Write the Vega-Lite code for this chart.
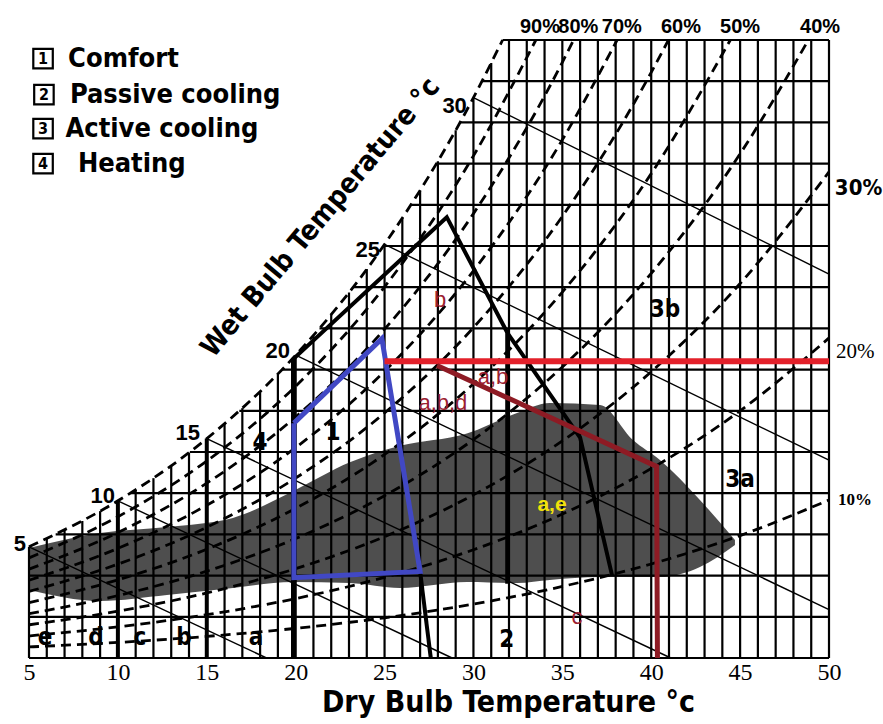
{
"$schema":"https://vega.github.io/schema/vega-lite/v6.json",
"width":800,"height":618,"autosize":"none",
"padding":{"left":29,"top":40,"right":54,"bottom":66},
"background":"white",
"config":{"view":{"stroke":null},"axis":{"grid":false}},
"datasets":{
"stipple":[
{"T":5.0,"Wt":5.34,"Wb":3.3},{"T":9.0,"Wt":6.07,"Wb":2.77},{"T":12.76,"Wt":6.36,"Wb":3.06},{"T":16.47,"Wt":6.8,"Wb":3.4},{"T":19.85,"Wt":8.1,"Wb":3.69},{"T":23.05,"Wt":9.5,"Wb":3.64},{"T":25.87,"Wt":10.3,"Wb":3.4},{"T":29.63,"Wt":10.9,"Wb":3.69},{"T":32.45,"Wt":11.89,"Wb":3.64},{"T":34.3,"Wt":12.38,"Wb":3.79},{"T":37.12,"Wt":12.28,"Wb":3.93},{"T":38.97,"Wt":10.58,"Wb":3.93},{"T":40.49,"Wt":9.61,"Wb":3.93},{"T":42.74,"Wt":7.67,"Wb":4.42},{"T":44.71,"Wt":5.73,"Wb":5.49}],
"vgrid":[
{"T":5,"W0":0,"W1":5.40},{"T":6,"W0":0,"W1":5.79},{"T":7,"W0":0,"W1":6.21},{"T":8,"W0":0,"W1":6.65},{"T":9,"W0":0,"W1":7.13},{"T":10,"W0":0,"W1":7.63},{"T":11,"W0":0,"W1":8.16},{"T":12,"W0":0,"W1":8.73},{"T":13,"W0":0,"W1":9.33},{"T":14,"W0":0,"W1":9.97},{"T":15,"W0":0,"W1":10.65},{"T":16,"W0":0,"W1":11.37},{"T":17,"W0":0,"W1":12.13},{"T":18,"W0":0,"W1":12.94},{"T":19,"W0":0,"W1":13.8},{"T":20,"W0":0,"W1":14.7},{"T":21,"W0":0,"W1":15.66},{"T":22,"W0":0,"W1":16.67},{"T":23,"W0":0,"W1":17.74},{"T":24,"W0":0,"W1":18.88},{"T":25,"W0":0,"W1":20.08},{"T":26,"W0":0,"W1":21.35},{"T":27,"W0":0,"W1":22.7},{"T":28,"W0":0,"W1":24.12},{"T":29,"W0":0,"W1":25.62},{"T":30,"W0":0,"W1":27.2},{"T":31,"W0":0,"W1":28.88},{"T":32,"W0":0,"W1":30},{"T":33,"W0":0,"W1":30},{"T":34,"W0":0,"W1":30},{"T":35,"W0":0,"W1":30},{"T":36,"W0":0,"W1":30},{"T":37,"W0":0,"W1":30},{"T":38,"W0":0,"W1":30},{"T":39,"W0":0,"W1":30},{"T":40,"W0":0,"W1":30},{"T":41,"W0":0,"W1":30},{"T":42,"W0":0,"W1":30},{"T":43,"W0":0,"W1":30},{"T":44,"W0":0,"W1":30},{"T":45,"W0":0,"W1":30},{"T":46,"W0":0,"W1":30},{"T":47,"W0":0,"W1":30},{"T":48,"W0":0,"W1":30},{"T":49,"W0":0,"W1":30},{"T":50,"W0":0,"W1":30}],
"hgrid":[
{"W":0,"T0":5,"T1":50},{"W":2,"T0":5,"T1":50},{"W":4,"T0":5,"T1":50},{"W":6,"T0":6.5,"T1":50},{"W":8,"T0":10.7,"T1":50},{"W":10,"T0":14.05,"T1":50},{"W":12,"T0":16.83,"T1":50},{"W":14,"T0":19.22,"T1":50},{"W":16,"T0":21.34,"T1":50},{"W":18,"T0":23.23,"T1":50},{"W":20,"T0":24.93,"T1":50},{"W":22,"T0":26.48,"T1":50},{"W":24,"T0":27.92,"T1":50},{"W":26,"T0":29.24,"T1":50},{"W":28,"T0":30.48,"T1":50},{"W":30,"T0":31.64,"T1":50}],
"rh":[
{"rh":10,"T":5,"W":0.536},{"rh":10,"T":10,"W":0.755},{"rh":10,"T":15,"W":1.049},{"rh":10,"T":20,"W":1.439},{"rh":10,"T":25,"W":1.951},{"rh":10,"T":30,"W":2.617},{"rh":10,"T":35,"W":3.473},{"rh":10,"T":40,"W":4.564},{"rh":10,"T":45,"W":5.943},{"rh":10,"T":50,"W":7.671},
{"rh":20,"T":5,"W":1.073},{"rh":20,"T":10,"W":1.511},{"rh":20,"T":15,"W":2.101},{"rh":20,"T":20,"W":2.885},{"rh":20,"T":25,"W":3.915},{"rh":20,"T":30,"W":5.256},{"rh":20,"T":35,"W":6.986},{"rh":20,"T":40,"W":9.196},{"rh":20,"T":45,"W":12.001},{"rh":20,"T":50,"W":15.534},
{"rh":30,"T":5,"W":1.611},{"rh":30,"T":10,"W":2.27},{"rh":30,"T":15,"W":3.156},{"rh":30,"T":20,"W":4.337},{"rh":30,"T":25,"W":5.891},{"rh":30,"T":30,"W":7.918},{"rh":30,"T":35,"W":10.538},{"rh":30,"T":40,"W":13.897},{"rh":30,"T":45,"W":18.177},{"rh":30,"T":50,"W":23.596},
{"rh":40,"T":5,"W":2.15},{"rh":40,"T":10,"W":3.03},{"rh":40,"T":15,"W":4.215},{"rh":40,"T":20,"W":5.797},{"rh":40,"T":25,"W":7.88},{"rh":40,"T":30,"W":10.602},{"rh":40,"T":35,"W":14.13},{"rh":40,"T":40,"W":18.669},{"rh":40,"T":45,"W":24.474},{"rh":40,"T":48.84,"W":30},
{"rh":50,"T":5,"W":2.69},{"rh":50,"T":10,"W":3.792},{"rh":50,"T":15,"W":5.278},{"rh":50,"T":20,"W":7.263},{"rh":50,"T":25,"W":9.881},{"rh":50,"T":30,"W":13.31},{"rh":50,"T":35,"W":17.763},{"rh":50,"T":40,"W":23.513},{"rh":50,"T":44.45,"W":30},
{"rh":60,"T":5,"W":3.23},{"rh":60,"T":10,"W":4.556},{"rh":60,"T":15,"W":6.345},{"rh":60,"T":20,"W":8.736},{"rh":60,"T":25,"W":11.895},{"rh":60,"T":30,"W":16.04},{"rh":60,"T":35,"W":21.438},{"rh":60,"T":40,"W":28.429},{"rh":60,"T":40.97,"W":30},
{"rh":70,"T":5,"W":3.772},{"rh":70,"T":10,"W":5.322},{"rh":70,"T":15,"W":7.415},{"rh":70,"T":20,"W":10.215},{"rh":70,"T":25,"W":13.922},{"rh":70,"T":30,"W":18.795},{"rh":70,"T":35,"W":25.155},{"rh":70,"T":38.08,"W":30},
{"rh":80,"T":5,"W":4.314},{"rh":80,"T":10,"W":6.09},{"rh":80,"T":15,"W":8.489},{"rh":80,"T":20,"W":11.702},{"rh":80,"T":25,"W":15.962},{"rh":80,"T":30,"W":21.572},{"rh":80,"T":35,"W":28.918},{"rh":80,"T":35.63,"W":30},
{"rh":90,"T":5,"W":4.858},{"rh":90,"T":10,"W":6.859},{"rh":90,"T":15,"W":9.566},{"rh":90,"T":20,"W":13.196},{"rh":90,"T":25,"W":18.016},{"rh":90,"T":30,"W":24.375},{"rh":90,"T":33.51,"W":30},
{"rh":100,"T":5,"W":5.4},{"rh":100,"T":10,"W":7.63},{"rh":100,"T":15,"W":10.65},{"rh":100,"T":20,"W":14.7},{"rh":100,"T":25,"W":20.08},{"rh":100,"T":30,"W":27.2},{"rh":100,"T":31.64,"W":30}],
"wb":[
{"wb":5,"T":5,"W":5.4},{"wb":5,"T":18.36,"W":0},
{"wb":10,"T":10,"W":7.63},{"wb":10,"T":28.8,"W":0},
{"wb":15,"T":15,"W":10.65},{"wb":15,"T":41.1,"W":0},
{"wb":20,"T":20,"W":14.7},{"wb":20,"T":50,"W":2.35},
{"wb":25,"T":25,"W":20.08},{"wb":25,"T":50,"W":9.6},
{"wb":30,"T":30,"W":27.2},{"wb":30,"T":50,"W":18.64}],
"black":[
{"id":"A","o":1,"T":19.85,"W":0},{"id":"A","o":2,"T":19.85,"W":14.5},{"id":"A","o":3,"T":28.5,"W":21.4},{"id":"A","o":4,"T":31.9,"W":15.8},{"id":"A","o":5,"T":31.9,"W":3.6},
{"id":"B","o":1,"T":31.9,"W":15.8},{"id":"B","o":2,"T":36.0,"W":10.7},{"id":"B","o":3,"T":37.8,"W":4.0},
{"id":"C","o":1,"T":27.0,"W":4.2},{"id":"C","o":2,"T":27.6,"W":0},
{"id":"D","o":1,"T":15,"W":0},{"id":"D","o":2,"T":15,"W":10.65},
{"id":"E","o":1,"T":10,"W":0},{"id":"E","o":2,"T":10,"W":7.63}],
"comfort":[
{"o":1,"T":19.9,"W":11.4},{"o":2,"T":24.85,"W":15.5},{"o":3,"T":27.0,"W":4.2},{"o":4,"T":19.9,"W":3.9},{"o":5,"T":19.9,"W":11.4}],
"red":[{"o":1,"T":25.0,"W":14.4},{"o":2,"T":50,"W":14.4}],
"darkred":[{"o":1,"T":27.95,"W":14.2},{"o":2,"T":40.3,"W":9.3},{"o":3,"T":40.35,"W":0}],
"satlab":[{"t":"5","T":4.83,"W":5.19},{"t":"10","T":9.84,"W":7.52},{"t":"15","T":14.62,"W":10.58},{"t":"20","T":19.68,"W":14.56},{"t":"25","T":24.74,"W":19.47},{"t":"30","T":29.63,"W":26.46}],
"toplab":[{"t":"90%","T":33.74,"W":30.34},{"t":"80%","T":35.9,"W":30.34},{"t":"70%","T":38.35,"W":30.34},{"t":"60%","T":41.67,"W":30.34},{"t":"50%","T":45.0,"W":30.34},{"t":"40%","T":49.5,"W":30.34}],
"zones":[{"t":"1","T":22.1,"W":10.92},{"t":"4","T":17.99,"W":10.44},{"t":"2","T":31.88,"W":0.87},{"t":"3a","T":44.99,"W":8.64},{"t":"3b","T":40.77,"W":16.89},{"t":"e","T":5.9,"W":0.97},{"t":"d","T":8.77,"W":0.97},{"t":"c","T":11.24,"W":0.97},{"t":"b","T":13.72,"W":0.97},{"t":"a","T":17.77,"W":0.97}],
"redlab":[{"t":"b","T":28.12,"W":17.38},{"t":"a,b,d","T":28.28,"W":12.38},{"t":"a,b","T":31.1,"W":13.64},{"t":"c","T":35.82,"W":1.99}],
"yellab":[{"t":"a,e","T":34.42,"W":7.43}],
"legend":[{"n":"1","label":"Comfort","Tb":5.79,"Tt":7.2,"W":29.1},{"n":"2","label":"Passive cooling","Tb":5.84,"Tt":7.3,"W":27.35},{"n":"3","label":"Active cooling","Tb":5.79,"Tt":7.05,"W":25.7},{"n":"4","label":"Heating","Tb":5.79,"Tt":7.75,"W":24.0}],
"title":[{"t":"Wet Bulb Temperature °c","T":21.42,"W":21.36}]
},
"layer":[
{"data":{"name":"stipple"},"mark":{"type":"area","color":"#1c1c1c","opacity":0.78,"interpolate":"monotone"},
 "encoding":{"x":{"field":"T","type":"quantitative","scale":{"domain":[5,50],"nice":false,"zero":false},
   "axis":{"values":[5,10,15,20,25,30,35,40,45,50],"ticks":false,"domain":false,"labelFont":"Liberation Serif","labelFontSize":24,"labelColor":"#000","labelPadding":2,"labelFlush":false,"labelOverlap":false,"title":"Dry Bulb Temperature °c","titleFont":"DejaVu Sans Condensed, DejaVu Sans, sans-serif","titleFontSize":30,"titleFontWeight":"bold","titleColor":"#000","titleX":479,"titleY":29,"titleAlign":"center","titleBaseline":"top"}},
  "y":{"field":"Wt","type":"quantitative","scale":{"domain":[0,30],"nice":false,"zero":false},"axis":null},
  "y2":{"field":"Wb"}}},
{"data":{"name":"vgrid"},"mark":{"type":"rule","color":"#000","strokeWidth":2.2},
 "encoding":{"x":{"field":"T","type":"quantitative"},"y":{"field":"W0","type":"quantitative"},"y2":{"field":"W1"}}},
{"data":{"name":"hgrid"},"mark":{"type":"rule","color":"#000","strokeWidth":2.2},
 "encoding":{"y":{"field":"W","type":"quantitative"},"x":{"field":"T0","type":"quantitative"},"x2":{"field":"T1"}}},
{"data":{"name":"wb"},"mark":{"type":"line","color":"#000","strokeWidth":1.4},
 "encoding":{"x":{"field":"T","type":"quantitative"},"y":{"field":"W","type":"quantitative"},"detail":{"field":"wb"}}},
{"data":{"name":"rh"},"mark":{"type":"line","color":"#000","strokeWidth":2.8,"strokeDash":[10,6],"interpolate":"monotone"},
 "encoding":{"x":{"field":"T","type":"quantitative"},"y":{"field":"W","type":"quantitative"},"detail":{"field":"rh"},"order":{"field":"T"}}},
{"data":{"name":"black"},"mark":{"type":"line","color":"#000","strokeWidth":4},
 "encoding":{"x":{"field":"T","type":"quantitative"},"y":{"field":"W","type":"quantitative"},"detail":{"field":"id"},"order":{"field":"o"}}},
{"data":{"name":"comfort"},"mark":{"type":"line","color":"#4148c4","strokeWidth":5},
 "encoding":{"x":{"field":"T","type":"quantitative"},"y":{"field":"W","type":"quantitative"},"order":{"field":"o"}}},
{"data":{"name":"red"},"mark":{"type":"line","color":"#e3202a","strokeWidth":6},
 "encoding":{"x":{"field":"T","type":"quantitative"},"y":{"field":"W","type":"quantitative"},"order":{"field":"o"}}},
{"data":{"name":"darkred"},"mark":{"type":"line","color":"#8e1b24","strokeWidth":5},
 "encoding":{"x":{"field":"T","type":"quantitative"},"y":{"field":"W","type":"quantitative"},"order":{"field":"o"}}},
{"data":{"name":"satlab"},"mark":{"type":"text","font":"Liberation Sans","fontWeight":"bold","fontSize":22,"align":"right","baseline":"alphabetic","color":"#000"},
 "encoding":{"x":{"field":"T","type":"quantitative"},"y":{"field":"W","type":"quantitative"},"text":{"field":"t"}}},
{"data":{"name":"toplab"},"mark":{"type":"text","font":"Liberation Sans","fontWeight":"bold","fontSize":20,"align":"center","baseline":"alphabetic","color":"#000"},
 "encoding":{"x":{"field":"T","type":"quantitative"},"y":{"field":"W","type":"quantitative"},"text":{"field":"t"}}},
{"data":{"values":[{"t":"30%","T":50.33,"W":22.48}]},"mark":{"type":"text","font":"DejaVu Sans Condensed, DejaVu Sans, sans-serif","fontWeight":"bold","fontSize":22,"align":"left","baseline":"alphabetic","color":"#000"},
 "encoding":{"x":{"field":"T","type":"quantitative"},"y":{"field":"W","type":"quantitative"},"text":{"field":"t"}}},
{"data":{"values":[{"t":"20%","T":50.4,"W":14.56}]},"mark":{"type":"text","font":"Liberation Serif","fontSize":21,"align":"left","baseline":"alphabetic","color":"#000"},
 "encoding":{"x":{"field":"T","type":"quantitative"},"y":{"field":"W","type":"quantitative"},"text":{"field":"t"}}},
{"data":{"values":[{"t":"10%","T":50.5,"W":7.43}]},"mark":{"type":"text","font":"Liberation Serif","fontWeight":"bold","fontSize":17,"align":"left","baseline":"alphabetic","color":"#000"},
 "encoding":{"x":{"field":"T","type":"quantitative"},"y":{"field":"W","type":"quantitative"},"text":{"field":"t"}}},
{"data":{"name":"zones"},"mark":{"type":"text","font":"DejaVu Sans Condensed, DejaVu Sans, sans-serif","fontWeight":"bold","fontSize":24,"align":"center","baseline":"middle","color":"#000"},
 "encoding":{"x":{"field":"T","type":"quantitative"},"y":{"field":"W","type":"quantitative"},"text":{"field":"t"}}},
{"data":{"name":"redlab"},"mark":{"type":"text","font":"Liberation Sans","fontSize":22,"align":"center","baseline":"middle","color":"#9b2030"},
 "encoding":{"x":{"field":"T","type":"quantitative"},"y":{"field":"W","type":"quantitative"},"text":{"field":"t"}}},
{"data":{"name":"yellab"},"mark":{"type":"text","font":"Liberation Sans","fontWeight":"bold","fontSize":21,"align":"center","baseline":"middle","color":"#f2e20a"},
 "encoding":{"x":{"field":"T","type":"quantitative"},"y":{"field":"W","type":"quantitative"},"text":{"field":"t"}}},
{"data":{"name":"legend"},"mark":{"type":"point","shape":"square","size":380,"filled":false,"color":"#000","strokeWidth":2.2,"opacity":1},
 "encoding":{"x":{"field":"Tb","type":"quantitative"},"y":{"field":"W","type":"quantitative"}}},
{"data":{"name":"legend"},"mark":{"type":"text","font":"DejaVu Sans Condensed, DejaVu Sans, sans-serif","fontWeight":"bold","fontSize":16,"align":"center","baseline":"middle","color":"#000"},
 "encoding":{"x":{"field":"Tb","type":"quantitative"},"y":{"field":"W","type":"quantitative"},"text":{"field":"n"}}},
{"data":{"name":"legend"},"mark":{"type":"text","font":"DejaVu Sans Condensed, DejaVu Sans, sans-serif","fontWeight":"bold","fontSize":27,"align":"left","baseline":"middle","color":"#000"},
 "encoding":{"x":{"field":"Tt","type":"quantitative"},"y":{"field":"W","type":"quantitative"},"text":{"field":"label"}}},
{"data":{"name":"title"},"mark":{"type":"text","font":"DejaVu Sans Condensed, DejaVu Sans, sans-serif","fontWeight":"bold","fontSize":28,"align":"center","baseline":"middle","angle":310,"color":"#000"},
 "encoding":{"x":{"field":"T","type":"quantitative"},"y":{"field":"W","type":"quantitative"},"text":{"field":"t"}}}
]
}
